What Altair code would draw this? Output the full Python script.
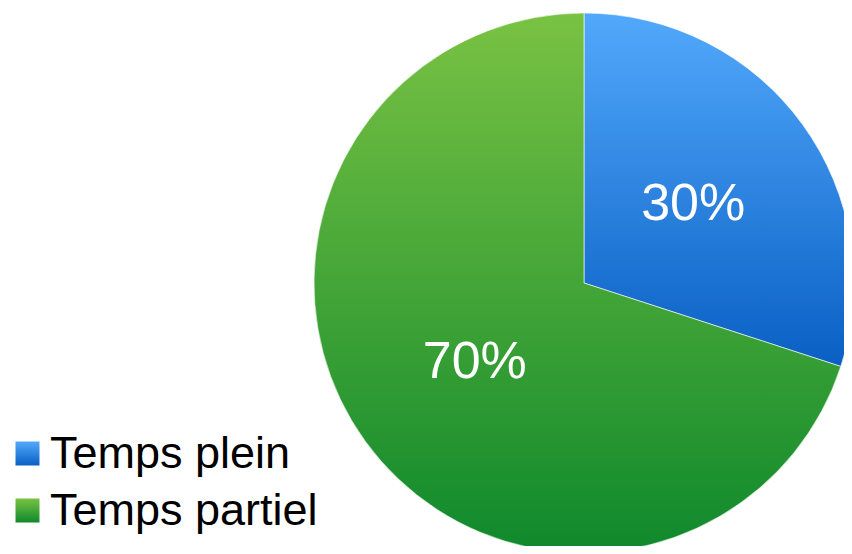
import altair as alt
import pandas as pd

# ---- data ----
categories = ["Temps plein", "Temps partiel"]
values = [30, 70]
labels = ["30%", "70%"]
order = [0, 1]

df = pd.DataFrame({"cat": categories, "value": values, "label": labels, "idx": order})

# ---- styling ----
FONT = "Liberation Sans"
CX, CY, R = 576, 275, 270

blue_grad = ("{gradient: 'linear', x1: 0, y1: 0, x2: 0, y2: 1, "
             "stops: [{offset: 0, color: '#52a9fb'}, {offset: 1, color: '#0a5fc4'}]}")
green_grad = ("{gradient: 'linear', x1: 0, y1: 0, x2: 0, y2: 1, "
              "stops: [{offset: 0, color: '#79c243'}, {offset: 1, color: '#0f892c'}]}")

color_scale = alt.Scale(domain=categories, range=[{"expr": blue_grad}, {"expr": green_grad}])

base = alt.Chart(df).encode(
    theta=alt.Theta("value:Q", stack=True),
    order=alt.Order("idx:Q"),
    detail="cat:N",
    x=alt.value(CX),
    y=alt.value(CY),
)

pie = base.mark_arc(radius=R, stroke="#ffffff", strokeWidth=0.6).encode(
    color=alt.Color(
        "cat:N",
        scale=color_scale,
        sort=categories,
        legend=alt.Legend(
            title=None,
            orient="none",
            legendX=-3,
            legendY=423,
            symbolType="square",
            symbolSize=576,
            symbolStrokeWidth=0,
            labelFont=FONT,
            labelFontSize=45,
            labelColor="#000000",
            labelOffset=0,
            rowPadding=11,
            padding=0,
            labelLimit=400,
        ),
    )
)

text = base.mark_text(radius=135, font=FONT, fontSize=52, color="#ffffff").encode(
    text="label:N"
)

chart = (
    alt.layer(pie, text)
    .properties(
        width=836,
        height=538,
        padding=0,
        autosize=alt.AutoSizeParams(type="none"),
        background="#ffffff",
    )
    .configure_view(stroke=None)
)

chart.save("out.html", embed_options={"renderer": "svg", "actions": False})
